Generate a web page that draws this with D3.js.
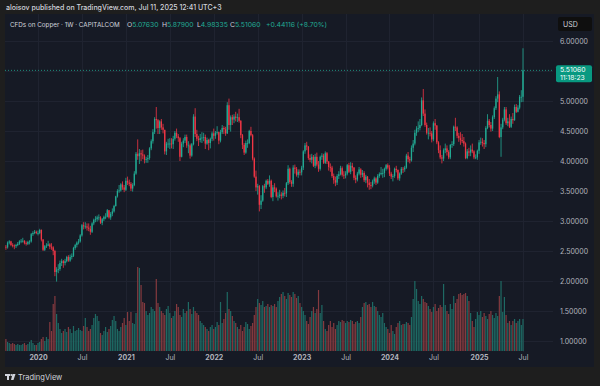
<!DOCTYPE html>
<html>
<head>
<meta charset="utf-8">
<script src="https://cdn.jsdelivr.net/npm/d3@7"></script>
<style>
  html, body { margin: 0; padding: 0; background: #1e1e1e; }
  svg { display: block; font-family: Inter, "Noto Sans", sans-serif; }
</style>
</head>
<body>
<div id="chart"></div>
<script>
// Weekly CFD copper candles, first bar = week of 26 Aug 2019, last = week of 7 Jul 2025
const firstOpen = 2.57;

const closes = [
  // 2019
  2.56,2.64,2.66,2.60,2.59,2.58,2.60,2.62,2.66,2.67,2.67,2.63,2.62,2.65,2.66,2.78,2.80,2.82,2.80,
  // 2020
  2.80,2.85,2.69,2.52,2.58,2.59,2.61,2.57,2.56,2.50,2.15,2.19,2.20,2.30,2.33,2.30,2.33,2.40,2.34,2.40,
  2.42,2.55,2.60,2.64,2.66,2.76,2.93,2.91,2.91,2.89,2.87,2.82,2.96,3.02,3.03,3.06,3.06,2.97,3.03,3.07,
  3.07,3.18,3.06,3.12,3.16,3.25,3.41,3.50,3.51,3.61,3.56,3.52,
  // 2021
  3.67,3.64,3.62,3.54,3.60,3.79,4.12,4.08,4.13,4.11,4.09,4.02,4.03,4.05,4.21,4.33,4.48,4.70,4.68,4.55,
  4.66,4.56,4.52,4.16,4.29,4.29,4.29,4.28,4.37,4.47,4.41,4.38,4.07,4.29,4.34,4.40,4.26,4.26,4.09,4.28,
  4.74,4.45,4.37,4.35,4.38,4.39,4.40,4.29,4.35,4.30,4.37,4.46,
  // 2022
  4.42,4.47,4.48,4.34,4.48,4.55,4.53,4.46,4.93,4.60,4.73,4.69,4.74,4.72,4.73,4.67,4.43,4.27,4.14,4.30,
  4.30,4.50,4.43,4.04,3.74,3.56,3.58,3.27,3.34,3.58,3.56,3.67,3.62,3.67,3.40,3.56,3.54,3.41,3.42,3.44,
  3.42,3.47,3.46,3.63,3.87,3.65,3.62,3.89,3.87,3.77,3.82,3.81,
  // 2023
  3.89,4.16,4.26,4.24,4.05,4.02,4.07,3.92,4.07,3.94,3.87,4.07,4.09,3.97,4.13,3.99,3.90,3.89,3.75,3.68,
  3.64,3.75,3.78,3.88,3.77,3.76,3.79,3.93,3.82,3.92,3.89,3.72,3.69,3.79,3.86,3.77,3.80,3.68,3.74,3.64,
  3.60,3.59,3.66,3.71,3.64,3.75,3.78,3.80,3.80,3.87,3.93,3.89,
  // 2024
  3.79,3.74,3.75,3.87,3.85,3.71,3.79,3.87,3.86,3.89,4.09,4.03,4.01,4.22,4.29,4.47,4.54,4.55,4.60,5.01,
  4.79,4.60,4.47,4.47,4.46,4.36,4.63,4.59,4.31,4.18,4.06,4.04,4.18,4.21,4.15,4.06,4.27,4.28,4.57,4.56,
  4.42,4.38,4.35,4.33,4.29,4.05,4.16,4.14,4.19,4.16,4.06,4.06,4.17,
  // 2025
  4.31,4.32,4.30,4.28,4.55,4.67,4.60,4.54,4.73,4.88,5.04,5.11,4.40,4.56,4.69,4.86,4.63,4.66,4.57,4.70,
  4.68,4.90,4.82,4.89,5.07,5.07,5.5106
];

const highs = [
  2.60,2.66,2.68,2.67,2.63,2.61,2.62,2.65,2.68,2.70,2.72,2.68,2.66,2.67,2.68,2.80,2.83,2.85,2.84,
  2.84,2.87,2.86,2.70,2.60,2.63,2.67,2.63,2.63,2.58,2.52,2.23,2.28,2.34,2.37,2.35,2.37,2.42,2.43,2.44,
  2.46,2.57,2.62,2.66,2.70,2.78,2.95,2.98,2.98,2.96,2.96,2.92,2.98,3.04,3.08,3.09,3.11,3.08,3.05,3.09,
  3.13,3.20,3.18,3.15,3.21,3.27,3.42,3.53,3.60,3.63,3.66,3.60,
  3.72,3.74,3.69,3.65,3.63,3.83,4.15,4.36,4.20,4.18,4.19,4.11,4.07,4.10,4.23,4.36,4.53,4.73,4.90,4.70,
  4.68,4.70,4.62,4.52,4.32,4.37,4.38,4.38,4.42,4.50,4.54,4.45,4.40,4.32,4.38,4.44,4.44,4.33,4.29,4.30,
  4.78,4.88,4.52,4.42,4.45,4.48,4.47,4.44,4.39,4.37,4.39,4.49,
  4.54,4.50,4.58,4.49,4.52,4.60,4.58,4.57,4.98,5.04,4.76,4.77,4.78,4.82,4.79,4.87,4.68,4.45,4.30,4.34,
  4.36,4.52,4.57,4.45,4.06,3.84,3.62,3.60,3.43,3.60,3.62,3.69,3.70,3.76,3.69,3.60,3.63,3.56,3.48,3.52,
  3.48,3.51,3.55,3.65,3.93,3.89,3.68,3.93,3.94,3.90,3.86,3.86,
  3.92,4.18,4.30,4.32,4.25,4.11,4.12,4.10,4.12,4.14,4.00,4.09,4.13,4.12,4.16,4.15,4.00,3.96,3.92,3.79,
  3.74,3.78,3.83,3.92,3.91,3.83,3.83,3.95,3.97,3.98,3.97,3.90,3.76,3.82,3.90,3.88,3.85,3.83,3.77,3.75,
  3.70,3.65,3.69,3.74,3.73,3.78,3.81,3.90,3.87,3.89,3.95,3.96,
  3.93,3.82,3.78,3.89,3.92,3.86,3.81,3.90,3.90,3.92,4.12,4.15,4.07,4.26,4.35,4.52,4.58,4.66,4.70,5.06,
  5.20,4.86,4.64,4.55,4.56,4.50,4.66,4.70,4.60,4.33,4.26,4.10,4.21,4.29,4.26,4.18,4.28,4.33,4.59,4.72,
  4.58,4.47,4.48,4.45,4.40,4.31,4.20,4.22,4.26,4.29,4.18,4.11,4.19,
  4.35,4.39,4.38,4.35,4.58,4.78,4.70,4.65,4.76,4.91,5.08,5.40,5.16,4.62,4.72,4.90,4.90,4.72,4.78,4.74,
  4.80,4.94,4.95,4.93,5.10,5.18,5.879
];

const lows = [
  2.52,2.54,2.61,2.58,2.56,2.53,2.55,2.58,2.60,2.63,2.64,2.61,2.59,2.60,2.61,2.64,2.75,2.78,2.78,
  2.76,2.78,2.66,2.50,2.50,2.55,2.58,2.53,2.52,2.43,2.08,1.99,2.13,2.17,2.25,2.22,2.26,2.31,2.32,2.32,
  2.36,2.40,2.52,2.56,2.61,2.64,2.74,2.86,2.87,2.84,2.83,2.77,2.80,2.93,2.98,2.99,3.01,2.95,2.93,3.00,
  3.03,3.06,3.04,3.02,3.08,3.14,3.24,3.39,3.47,3.49,3.52,3.48,
  3.50,3.60,3.58,3.50,3.49,3.58,3.77,4.02,3.95,4.00,4.03,3.96,3.97,3.97,4.02,4.18,4.29,4.45,4.54,4.45,
  4.45,4.52,4.46,4.11,4.10,4.22,4.20,4.21,4.20,4.34,4.38,4.32,4.00,4.06,4.23,4.30,4.22,4.13,4.04,4.07,
  4.26,4.40,4.33,4.25,4.31,4.30,4.33,4.20,4.27,4.18,4.21,4.33,
  4.34,4.37,4.44,4.28,4.31,4.45,4.45,4.42,4.45,4.52,4.49,4.60,4.63,4.66,4.65,4.64,4.38,4.20,4.10,4.12,
  4.22,4.28,4.41,4.01,3.72,3.50,3.44,3.16,3.20,3.32,3.47,3.53,3.60,3.57,3.38,3.33,3.48,3.39,3.34,3.38,
  3.36,3.38,3.41,3.40,3.60,3.62,3.57,3.57,3.79,3.74,3.72,3.76,
  3.76,3.85,4.12,4.18,4.02,3.98,3.96,3.90,3.88,3.91,3.82,3.84,4.02,3.95,3.95,3.95,3.84,3.82,3.72,3.62,
  3.58,3.60,3.70,3.76,3.74,3.70,3.71,3.76,3.80,3.78,3.83,3.68,3.63,3.66,3.76,3.72,3.73,3.65,3.63,3.56,
  3.52,3.53,3.56,3.62,3.60,3.62,3.72,3.76,3.72,3.73,3.84,3.86,
  3.75,3.70,3.66,3.72,3.81,3.68,3.67,3.77,3.80,3.82,3.87,3.98,3.96,3.99,4.15,4.26,4.42,4.48,4.51,4.58,
  4.75,4.57,4.44,4.36,4.41,4.31,4.33,4.52,4.28,4.13,4.03,3.96,4.00,4.13,4.09,4.03,4.03,4.22,4.25,4.50,
  4.38,4.32,4.27,4.30,4.24,4.03,4.03,4.08,4.08,4.13,4.03,4.03,4.02,
  4.12,4.27,4.24,4.20,4.23,4.53,4.56,4.49,4.50,4.70,4.85,4.98,4.38,4.07,4.53,4.66,4.60,4.58,4.55,4.55,
  4.62,4.67,4.80,4.81,4.86,4.98,4.98335
];

// volume, relative units
const volumes = [
  12,9,8,7,8,7,6,7,6,6,7,8,6,7,9,11,8,6,6,
  8,9,12,14,10,14,12,29,20,47,55,37,28,22,18,20,22,19,24,22,18,25,20,21,
  23,21,20,25,33,24,20,22,26,33,37,35,30,18,16,20,24,19,22,25,31,35,30,22,20,24,28,33,
  26,39,30,39,28,27,38,84,83,66,49,48,40,36,38,44,42,40,72,48,
  44,40,38,36,42,45,38,33,35,40,47,44,36,34,42,38,40,49,42,37,44,40,38,36,
  30,28,26,24,22,20,24,26,22,24,29,26,49,28,32,38,59,42,40,35,30,
  28,24,22,26,20,24,29,27,22,25,28,36,44,52,48,46,50,44,45,47,44,46,45,47,44,
  50,54,57,59,55,52,58,56,54,59,57,53,55,48,44,40,36,30,27,34,40,44,38,
  42,61,38,46,30,22,20,26,30,24,28,22,26,30,29,31,30,28,30,29,31,30,27,29,30,28,
  34,44,48,49,46,47,44,49,45,44,40,36,34,38,28,24,22,18,26,20,17,24,28,30,26,27,
  27,29,28,26,34,52,70,62,50,47,55,52,49,48,45,42,39,44,47,40,43,46,44,67,46,
  40,37,47,42,55,48,52,57,58,56,57,58,55,50,38,30,24,32,39,
  36,40,34,38,35,32,37,40,36,33,38,35,55,70,39,54,36,28,30,26,30,32,28,30,32,26,32
];

const priceTicks = [1, 1.5, 2, 2.5, 3, 3.5, 4, 4.5, 5, 5.5, 6];
const timeTickDates = ['2020-01-06','2020-07-06','2021-01-04','2021-07-05','2022-01-03','2022-07-04',
                       '2023-01-02','2023-07-03','2024-01-01','2024-07-01','2025-01-06','2025-07-07'];
const timeTickLabels = ['2020','Jul','2021','Jul','2022','Jul','2023','Jul','2024','Jul','2025','Jul'];

const lastPrice = 5.5106;

// week start dates (Mondays)
const weeks = d3.utcMonday.range(new Date(Date.UTC(2019, 7, 26)), new Date(Date.UTC(2025, 6, 8)));
if (weeks.length !== closes.length || highs.length !== closes.length ||
    lows.length !== closes.length || volumes.length !== closes.length) {
  throw new Error(`length mismatch: weeks ${weeks.length} closes ${closes.length} highs ${highs.length} lows ${lows.length} vol ${volumes.length}`);
}

const bars = closes.map((c, i) => {
  const o = i === 0 ? firstOpen : closes[i - 1];
  return {
    date: weeks[i], open: o, close: c,
    high: Math.max(highs[i], o, c), low: Math.min(lows[i], o, c),
    vol: volumes[i], up: c >= o
  };
});

// Layout
const W = 600, H = 386;
const panel = { x: 5, y: 14, w: 589, h: 353 };
const plot = { left: 5, right: 553, top: 14, bottom: 352 };

const upColor = '#22ab94', downColor = '#f23645';
const volUp = '#1e6a64', volDown = '#853a3f';
const textColor = '#b2b5be';

const x = d3.scaleUtc()
  .domain([new Date(Date.UTC(2020, 0, 6)), new Date(Date.UTC(2025, 6, 7))])
  .range([38, 523]);
const y = d3.scaleLinear().domain([1, 6]).range([341, 41]);
const yVol = d3.scaleLinear().domain([0, 84]).range([351, 267]);

const svg = d3.select('#chart').append('svg')
  .attr('width', W).attr('height', H);

svg.append('rect').attr('width', W).attr('height', H).attr('fill', '#1e1e1e');
svg.append('rect')
  .attr('x', panel.x).attr('y', panel.y).attr('width', panel.w).attr('height', panel.h)
  .attr('fill', '#161a25');

// publisher line
svg.append('text')
  .attr('x', 6).attr('y', 10)
  .attr('fill', '#d1d4dc').attr('font-size', 7).attr('font-weight', 500)
  .text('aloisov published on TradingView.com, Jul 11, 2025 12:41 UTC+3');

svg.append('defs').append('clipPath').attr('id', 'plotClip')
  .append('rect')
  .attr('x', plot.left).attr('y', plot.top)
  .attr('width', plot.right - plot.left).attr('height', plot.bottom - plot.top);

const tickDates = timeTickDates.map(s => new Date(s + 'T00:00:00Z'));

// Grid
const grid = svg.append('g').attr('stroke', '#1f2330').attr('stroke-width', 1);
grid.selectAll('line.h').data(priceTicks).enter().append('line')
  .attr('class', 'h')
  .attr('x1', plot.left).attr('x2', plot.right)
  .attr('y1', d => Math.round(y(d)) + 0.5).attr('y2', d => Math.round(y(d)) + 0.5);
grid.selectAll('line.v').data(tickDates).enter().append('line')
  .attr('class', 'v')
  .attr('x1', d => Math.round(x(d)) + 0.5).attr('x2', d => Math.round(x(d)) + 0.5)
  .attr('y1', plot.top).attr('y2', plot.bottom);

const g = svg.append('g').attr('clip-path', 'url(#plotClip)');

// Volume
g.append('g').selectAll('rect').data(bars).enter().append('rect')
  .attr('x', d => x(d.date) - 0.6)
  .attr('width', 1.2)
  .attr('y', d => yVol(d.vol))
  .attr('height', d => yVol(0) - yVol(d.vol))
  .attr('fill', d => d.up ? volUp : volDown);

// Candles
const candle = g.append('g').selectAll('g').data(bars).enter().append('g');
candle.append('line')
  .attr('x1', d => x(d.date)).attr('x2', d => x(d.date))
  .attr('y1', d => y(d.high)).attr('y2', d => y(d.low))
  .attr('stroke', d => d.up ? upColor : downColor)
  .attr('stroke-width', 0.8);
candle.append('rect')
  .attr('x', d => x(d.date) - 0.65)
  .attr('width', 1.3)
  .attr('y', d => y(Math.max(d.open, d.close)))
  .attr('height', d => Math.max(0.8, Math.abs(y(d.open) - y(d.close))))
  .attr('fill', d => d.up ? upColor : downColor);

// Last price dotted line
g.append('line')
  .attr('x1', plot.left).attr('x2', plot.right)
  .attr('y1', y(lastPrice)).attr('y2', y(lastPrice))
  .attr('stroke', upColor).attr('stroke-width', 0.8)
  .attr('stroke-dasharray', '1,2');

// Price axis (5.5 label sits under the last-price tag, so it is left blank)
const yAxis = svg.append('g')
  .attr('transform', `translate(${plot.right + 4},0)`)
  .call(d3.axisRight(y).tickValues(priceTicks)
    .tickFormat(d => d === 5.5 ? '' : d3.format('.5f')(d))
    .tickSize(0).tickPadding(3));
yAxis.select('.domain').remove();
yAxis.selectAll('text')
  .attr('fill', textColor).attr('font-size', 7)
  .attr('font-family', 'Inter, "Noto Sans", sans-serif');

// Time axis
const xAxis = svg.append('g')
  .attr('transform', `translate(0,${plot.bottom + 3})`)
  .call(d3.axisBottom(x).tickValues(tickDates).tickFormat((d, i) => timeTickLabels[i]).tickSize(0).tickPadding(0));
xAxis.select('.domain').remove();
xAxis.selectAll('text')
  .attr('fill', textColor).attr('font-size', 7)
  .attr('font-family', 'Inter, "Noto Sans", sans-serif')
  .attr('font-weight', (d, i) => timeTickLabels[i] === 'Jul' ? 400 : 700);

// Last price label
const lp = svg.append('g').attr('transform', `translate(556,${y(lastPrice) - 5})`);
lp.append('rect').attr('width', 36).attr('height', 17).attr('rx', 2).attr('fill', '#089981');
lp.append('text').attr('x', 4).attr('y', 7).attr('fill', '#ffffff').attr('font-size', 6.8)
  .text(d3.format('.5f')(lastPrice));
lp.append('text').attr('x', 4).attr('y', 14.8).attr('fill', '#ffffff').attr('font-size', 6.8)
  .text('11:18:23');

// USD box
svg.append('rect').attr('x', 558).attr('y', 17).attr('width', 34).attr('height', 14).attr('rx', 2)
  .attr('fill', '#0f0f0f');
svg.append('text').attr('x', 563).attr('y', 26.5).attr('fill', '#d1d4dc').attr('font-size', 7)
  .text('USD');

// Legend header
svg.append('text').attr('x', 10).attr('y', 26.5).attr('font-size', 6.3).attr('fill', '#d1d4dc')
  .text('CFDs on Copper · 1W · CAPITALCOM');
const ohlc = [
  ['O', '5.07630', 127], ['H', '5.87900', 162], ['L', '4.98335', 197], ['C', '5.51060', 230]
];
ohlc.forEach(([k, v, px]) => {
  const t = svg.append('text').attr('x', px).attr('y', 26.5).attr('font-size', 6.8);
  t.append('tspan').attr('fill', '#d1d4dc').text(k);
  t.append('tspan').attr('fill', upColor).text(v);
});
svg.append('text').attr('x', 266).attr('y', 26.5).attr('font-size', 6.8).attr('fill', upColor)
  .text('+0.44116 (+8.70%)');

// TradingView footer
const logo = svg.append('g').attr('fill', '#d1d4dc');
logo.append('rect').attr('x', 5).attr('y', 374).attr('width', 5).attr('height', 2);
logo.append('rect').attr('x', 7).attr('y', 374).attr('width', 2).attr('height', 6);
logo.append('circle').attr('cx', 11.3).attr('cy', 375).attr('r', 1);
logo.append('path').attr('d', 'M12.5,374 L15.5,374 L13.5,380 L11,380 Z');
svg.append('text').attr('x', 18).attr('y', 380).attr('fill', '#d1d4dc').attr('font-size', 7.5)
  .text('TradingView');
</script>
</body>
</html>
